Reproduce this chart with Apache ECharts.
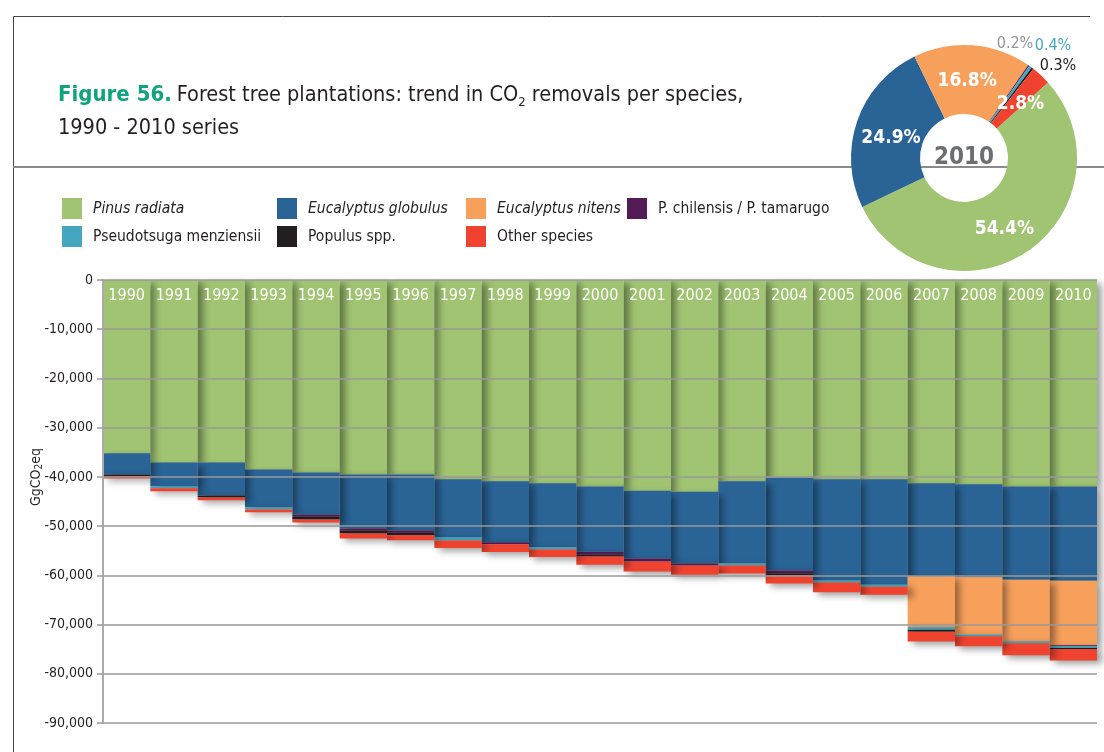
<!DOCTYPE html>
<html>
<head>
<meta charset="utf-8">
<title>Figure 56</title>
<script src="https://cdn.jsdelivr.net/npm/echarts@6/dist/echarts.min.js"></script>
<style>
  html, body { margin: 0; padding: 0; background: #fff; }
  #chart { width: 1104px; height: 752px; }
</style>
</head>
<body>
<div id="chart"></div>
<script>
// categories
var years = ['1990', '1991', '1992', '1993', '1994', '1995', '1996', '1997', '1998', '1999', '2000',
  '2001', '2002', '2003', '2004', '2005', '2006', '2007', '2008', '2009', '2010'];

// removals per species, GgCO2eq
var pinusRadiata = [-35200, -37100, -37100, -38500, -39100, -39500, -39500, -40500, -40900, -41300, -41950,
  -42800, -43000, -40900, -40200, -40500, -40500, -41300, -41500, -41950, -41950];
var eucGlobulus = [-4300, -4850, -6700, -7700, -8600, -11000, -11400, -11800, -12400, -13000, -13250,
  -13800, -14600, -16700, -18800, -20550, -21400, -18900, -18900, -18950, -19150];
var eucNitens = [0, 0, 0, 0, 0, 0, 0, 0, 0, 0, 0,
  0, 0, 0, 0, 0, 0, -10300, -11600, -12500, -13100];
var pChilensis = [0, 0, 0, 0, -400, -450, -450, 0, -400, 0, -600,
  -600, -400, 0, -600, 0, 0, 0, 0, 0, -150];
var pseudotsuga = [0, -350, 0, -400, 0, 0, 0, -600, 0, -450, 0,
  0, 0, -400, 0, -400, -400, -550, -400, -400, -400];
var populus = [-350, 0, -400, 0, -550, -550, -500, 0, 0, 0, -350,
  0, 0, 0, -400, 0, 0, -400, 0, 0, -230];
var otherSpecies = [-500, -600, -550, -600, -600, -1000, -1000, -1550, -1550, -1550, -1700,
  -2000, -1900, -1650, -1650, -2000, -1650, -2000, -2000, -2450, -2300];

// 2010 shares for the donut, %
var pieShares = [54.4, 24.9, 16.8, 0.2, 0.4, 0.3, 2.8];

var names = ['Pinus radiata', 'Eucalyptus globulus', 'Eucalyptus nitens', 'P. chilensis / P. tamarugo',
  'Pseudotsuga menziensii', 'Populus spp.', 'Other species'];
var colors = ['#a0c472', '#2a6496', '#f7a05c', '#541c56', '#45a7bf', '#231f20', '#ef432f'];
var seriesData = [pinusRadiata, eucGlobulus, eucNitens, pChilensis, pseudotsuga, populus, otherSpecies];

var FONT = '"Liberation Sans Narrow", "DejaVu Sans Condensed", "Open Sans", sans-serif';

var chart = echarts.init(document.getElementById('chart'));

// drawn right-to-left so each bar's shadow falls on its right neighbour
function rev(a) { return a.slice().reverse(); }

var barSeries = seriesData.map(function (d, i) {
  var s = {
    name: names[i],
    type: 'bar',
    stack: 'total',
    data: rev(d),
    barCategoryGap: '0%',
    itemStyle: {
      color: colors[i],
      shadowColor: 'rgba(0,0,0,0.4)',
      shadowBlur: 7,
      shadowOffsetX: 5,
      shadowOffsetY: 3
    },
    emphasis: { disabled: true }
  };
  if (i === 0) {
    s.label = {
      show: true,
      position: 'insideTop',
      distance: 8,
      formatter: '{b}',
      color: '#fff',
      fontFamily: FONT,
      fontSize: 16
    };
  }
  return s;
});

var smallLabelColor = ['', '', '', '#939598', '#45a7bf', '#231f20', ''];
var smallLabelPos = { 3: [1015, 44], 4: [1053, 46], 5: [1058, 66] };
// small nudges of the inside labels
var insideShift = { 0: [-5, 3], 1: [4, 7], 2: [-3, 4], 6: [1, 6] };

var pieSeries = {
  name: '2010',
  type: 'pie',
  center: [964, 158],
  radius: [44, 113],
  startAngle: 42,
  clockwise: true,
  z: 5,
  itemStyle: { borderWidth: 0 },
  emphasis: { disabled: true },
  labelLine: { show: false },
  data: pieShares.map(function (v, i) {
    var small = smallLabelColor[i] !== '';
    return {
      name: names[i],
      value: v,
      itemStyle: { color: colors[i] },
      label: small ? {
        color: smallLabelColor[i],
        fontSize: 16,
        fontWeight: 'normal'
      } : {
        color: '#fff',
        fontSize: 19,
        fontWeight: 'bold'
      }
    };
  }),
  label: {
    show: true,
    position: 'inside',
    overflow: 'none',
    fontFamily: FONT,
    formatter: function (p) { return p.value.toFixed(1) + '%'; }
  },
  labelLayout: function (p) {
    var pos = smallLabelPos[p.dataIndex];
    if (pos) {
      return { x: pos[0], y: pos[1], align: 'center', verticalAlign: 'middle' };
    }
    var sh = insideShift[p.dataIndex];
    if (sh) {
      return { dx: sh[0], dy: sh[1] };
    }
    return {};
  }
};

function legendItem(idx, left, top, italic) {
  return {
    left: left,
    top: top,
    padding: 0,
    orient: 'horizontal',
    icon: 'rect',
    itemWidth: 20,
    itemHeight: 21,
    itemGap: 0,
    selectedMode: false,
    textStyle: {
      fontFamily: FONT,
      fontSize: 15.5,
      color: '#231f20',
      fontStyle: italic ? 'italic' : 'normal',
      padding: [0, 0, 0, 6]
    },
    data: [{ name: names[idx], itemStyle: { color: colors[idx] } }]
  };
}

var option = {
  animation: false,
  title: {
    left: 58,
    top: 79,
    padding: 0,
    text: '{g|Figure 56.} {t|Forest tree plantations: trend in CO}{s|2}{t| removals per species,}\n{t|1990 - 2010 series}',
    textStyle: {
      rich: {
        g: { fontFamily: FONT, fontSize: 22, fontWeight: 'bold', color: '#10a37f', lineHeight: 33 },
        t: { fontFamily: FONT, fontSize: 21.5, fontWeight: 'normal', color: '#231f20', lineHeight: 33 },
        s: { fontFamily: FONT, fontSize: 13, fontWeight: 'normal', color: '#231f20', lineHeight: 33, padding: [14, 0, 0, 0] }
      }
    }
  },
  legend: [
    legendItem(0, 62, 198, true),
    legendItem(1, 277, 198, true),
    legendItem(2, 466, 198, true),
    legendItem(3, 627, 198, false),
    legendItem(4, 62, 226, false),
    legendItem(5, 277, 226, false),
    legendItem(6, 466, 226, false)
  ],
  grid: { left: 103, right: 7, top: 280, bottom: 29 },
  xAxis: {
    type: 'category',
    data: rev(years),
    inverse: true,
    position: 'top',
    axisLine: { show: false },
    axisTick: { show: false },
    axisLabel: { show: false }
  },
  yAxis: {
    type: 'value',
    min: -90000,
    max: 0,
    interval: 10000,
    z: 6,
    axisLine: { show: true, lineStyle: { color: '#aaa', width: 2 } },
    axisTick: { show: true, length: 6, lineStyle: { color: '#999', width: 1.5 } },
    splitLine: { show: true, lineStyle: { color: '#999', width: 1.5 } },
    axisLabel: {
      fontFamily: FONT,
      fontSize: 14,
      color: '#231f20',
      margin: 10,
      formatter: function (v) { return v === 0 ? '0' : echarts.format.addCommas(v); }
    }
  },
  graphic: [
    { type: 'line', z: 0, shape: { x1: 13.5, y1: 16.5, x2: 1090, y2: 16.5 }, style: { stroke: '#444', lineWidth: 1 } },
    { type: 'line', z: 0, shape: { x1: 13.5, y1: 16.5, x2: 13.5, y2: 752 }, style: { stroke: '#444', lineWidth: 1 } },
    { type: 'line', z: 0, shape: { x1: 13, y1: 167, x2: 1104, y2: 167 }, style: { stroke: '#8a8a8a', lineWidth: 2 } },
    {
      type: 'text', z: 100, x: 964, y: 158,
      style: { text: '2010', fill: '#6d6e71', font: 'bold 24px ' + FONT, textAlign: 'center', textVerticalAlign: 'middle' }
    },
    {
      type: 'text', z: 100, x: 36, y: 477, rotation: Math.PI / 2,
      style: {
        text: '{a|GgCO}{b|2}{a|eq}',
        textAlign: 'center', textVerticalAlign: 'middle',
        rich: {
          a: { fontFamily: FONT, fontSize: 14, fill: '#231f20', lineHeight: 18 },
          b: { fontFamily: FONT, fontSize: 10, fill: '#231f20', lineHeight: 18, padding: [7, 0, 0, 0] }
        }
      }
    }
  ],
  series: barSeries.concat([pieSeries])
};

chart.setOption(option);
</script>
</body>
</html>
